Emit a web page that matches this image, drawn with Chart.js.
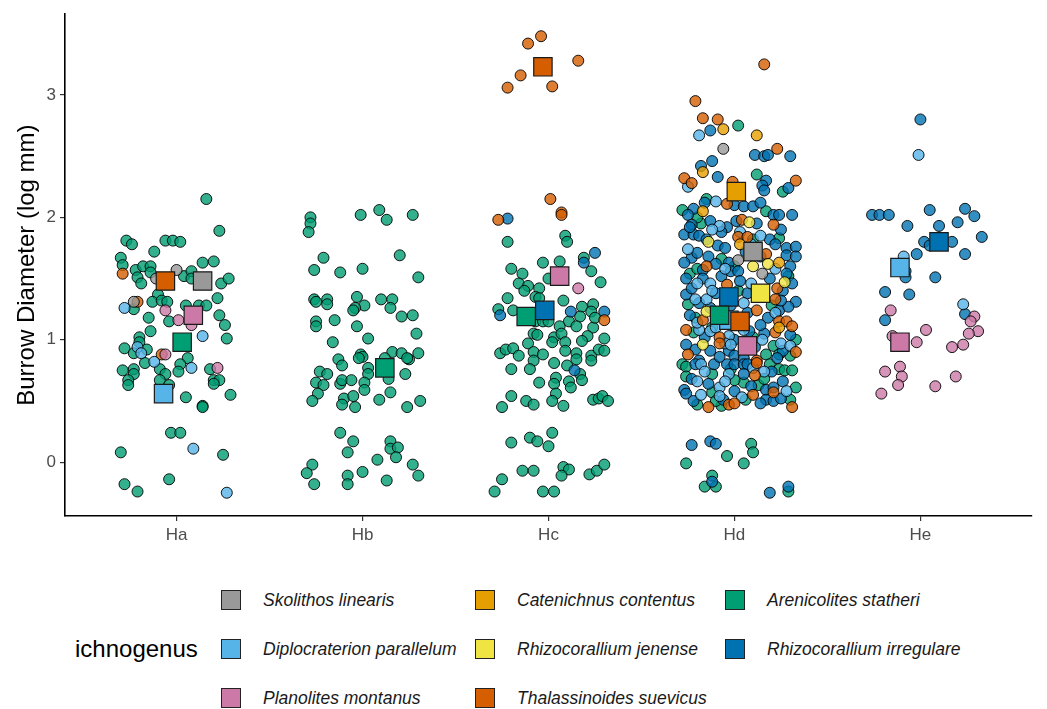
<!doctype html>
<html>

<head>
    <meta charset="utf-8">
    <title>Burrow Diameter</title>
    <script src="https://cdn.jsdelivr.net/npm/chart.js"></script>
    <style>
        body { margin: 0; background: #fff; font-family: "Liberation Sans", Arial, sans-serif; }
        #wrap { position: relative; width: 1047px; height: 709px; }
        #grafico { position: absolute; left: 0; top: 0; }
        .titulo { position: absolute; left: 75px; top: 635px; font-size: 24px; color: #000; }
        .item { position: absolute; height: 20px; display: flex; align-items: center; font-size: 17.5px; font-style: italic; color: #1a1a1a; white-space: nowrap; }
        .caixa { width: 18px; height: 18px; border: 1px solid #222; margin-right: 22px; }
    </style>
</head>

<body>
    <div id="wrap">
        <canvas id="grafico" width="1047" height="560"></canvas>
        <div class="titulo">ichnogenus</div>
        <div id="legenda"></div>
    </div>

    <script>
        // grupos no eixo x e ticks do eixo y
        var grupos = ['Ha', 'Hb', 'Hc', 'Hd', 'He'];
        var yTicks = [0, 1, 2, 3];

        var especies = ['Skolithos linearis', 'Diplocraterion parallelum', 'Planolites montanus',
            'Catenichnus contentus', 'Rhizocorallium jenense', 'Thalassinoides suevicus',
            'Arenicolites statheri', 'Rhizocorallium irregulare'];
        var cores = ['#999999', '#56B4E9', '#CC79A7', '#E69F00', '#F0E442', '#D55E00', '#009E73', '#0072B2'];

        // pontos [x com jitter, log mm]
        var skolithos = [[1.00, 1.57], [0.89, 1.50], [0.77, 1.31], [3.94, 2.56], [4.02, 1.65], [4.15, 1.54]];
        var skolithosMedia = [[1.14, 1.48], [4.10, 1.72]];

        var diplocraterion = [[0.72, 1.26], [1.14, 1.03], [0.79, 0.94], [0.81, 0.89], [0.88, 0.82], [1.08, 0.77], [1.09, 0.11], [1.27, -0.25],
            [3.81, 2.67], [3.75, 2.25], [3.90, 2.13], [3.92, 1.93], [4.14, 1.85], [3.80, 1.46], [3.87, 1.46], [4.09, 1.46], [3.79, 1.33],
            [3.85, 1.33], [3.81, 1.08], [3.87, 1.07], [3.90, 1.10], [3.97, 1.03], [4.05, 1.08], [4.15, 1.00], [4.25, 0.97], [3.95, 0.97],
            [3.82, 0.80], [3.80, 0.66], [3.97, 0.72], [4.16, 0.74], [3.92, 0.61], [3.82, 0.55], [3.92, 0.54],
            [3.88, 1.90], [4.03, 1.88], [3.75, 1.74], [4.09, 1.78], [3.95, 1.58], [4.22, 1.58], [3.88, 1.40], [4.12, 1.40], [3.80, 1.14],
            [4.05, 1.30], [4.22, 1.22], [3.98, 0.96], [4.30, 0.95], [3.84, 0.74], [4.10, 0.77], [3.95, 0.66], [4.28, 0.58], [4.04, 0.53],
            [4.99, 2.51], [4.91, 1.68], [5.23, 1.29]];
        var diplocraterionMedia = [[0.93, 0.56], [3.97, 1.16], [4.89, 1.59]];

        var planolites = [[0.94, 1.24], [1.01, 1.16], [1.08, 1.12], [0.94, 0.88], [1.22, 0.77],
            [3.16, 1.42],
            [4.84, 1.24], [5.29, 1.19], [5.27, 1.15], [5.31, 1.07], [5.26, 1.05], [5.03, 1.08], [4.85, 1.03], [4.98, 0.98], [5.17, 0.94],
            [5.23, 0.96], [4.89, 0.78], [4.81, 0.74], [4.90, 0.70], [4.88, 0.63], [4.79, 0.56], [5.08, 0.62], [5.19, 0.70]];
        var planolitesMedia = [[1.09, 1.20], [3.06, 1.52], [4.07, 0.95], [4.89, 0.98]];

        var catenichnus = [[3.94, 2.72], [4.12, 2.67], [3.83, 2.37], [3.83, 2.05], [4.03, 1.78], [4.24, 1.63], [4.24, 1.10]];
        var catenichnusMedia = [[4.01, 2.21]];

        var jenense = [[4.08, 1.96], [3.86, 1.80], [4.10, 1.60], [4.18, 1.62], [4.27, 1.47], [3.85, 1.23], [3.83, 0.96]];
        var jenenseMedia = [[4.14, 1.38]];

        var thalassinoides = [[0.71, 1.54], [0.79, 1.31], [0.92, 0.88],
            [2.89, 3.42], [2.96, 3.48], [3.16, 3.28], [2.85, 3.16], [2.78, 3.06], [3.02, 3.07], [3.01, 2.15], [3.07, 2.04], [3.07, 2.02],
            [2.73, 1.98], [3.30, 1.16],
            [4.16, 3.25], [3.79, 2.95], [3.83, 2.81], [3.91, 2.80], [4.23, 2.56], [3.73, 2.32], [3.77, 2.28], [3.99, 2.29], [4.33, 2.30],
            [3.96, 2.11], [4.21, 1.94], [4.04, 1.98], [4.02, 1.84], [4.07, 1.84], [3.96, 1.45], [4.23, 1.42], [4.22, 1.33], [4.12, 1.24],
            [3.83, 1.16], [3.74, 1.08], [4.24, 1.15], [4.28, 1.15], [4.31, 1.11], [4.22, 1.06], [3.92, 1.02], [3.92, 0.97], [3.75, 0.88],
            [4.12, 0.83], [4.12, 0.81], [4.11, 0.71], [4.21, 0.57], [4.10, 0.55], [4.31, 0.45], [3.86, 0.45], [3.97, 0.47], [4.00, 0.48],
            [3.85, 1.60], [4.17, 1.70], [4.33, 0.90]];
        var thalassinoidesMedia = [[0.94, 1.48], [2.97, 3.23], [4.03, 1.15]];

        var arenicolitesHa = [[1.16, 2.15], [1.23, 1.89], [0.73, 1.81], [0.76, 1.78], [0.94, 1.81], [0.98, 1.81], [1.02, 1.80], [0.88, 1.72],
            [0.70, 1.67], [0.71, 1.61], [0.78, 1.57], [0.82, 1.60], [0.86, 1.60], [0.79, 1.51], [0.81, 1.46], [0.86, 1.55], [1.04, 1.52],
            [1.08, 1.56], [1.08, 1.50], [1.14, 1.63], [1.20, 1.64], [1.24, 1.46], [1.28, 1.50], [1.22, 1.34], [0.90, 1.37], [0.77, 1.25],
            [0.87, 1.31], [0.92, 1.32], [0.95, 1.31], [0.85, 1.18], [0.96, 1.15], [1.05, 1.28], [1.12, 1.28], [1.16, 1.28], [1.23, 1.20],
            [1.26, 1.12], [1.27, 1.01], [0.86, 1.07], [0.80, 1.02], [0.80, 0.98], [0.84, 0.92], [0.72, 0.93], [0.77, 0.89], [0.83, 0.81],
            [1.06, 0.85], [1.02, 0.80], [1.01, 0.74], [0.71, 0.75], [0.77, 0.76], [0.77, 0.72], [0.74, 0.67], [0.74, 0.63], [0.91, 0.76],
            [0.94, 0.72], [0.91, 0.67], [1.18, 0.76], [1.20, 0.67], [1.23, 0.67], [1.20, 0.64], [0.96, 0.63], [1.29, 0.55], [1.05, 0.53],
            [1.14, 0.46], [1.14, 0.45], [0.97, 0.24], [1.02, 0.24], [0.70, 0.08], [1.25, 0.06], [0.72, -0.18], [0.79, -0.24], [0.96, -0.14]];
        var arenicolitesHb = [[1.72, 2.00], [1.72, 1.95], [1.71, 1.88], [1.99, 2.02], [2.09, 2.06], [2.13, 1.98], [2.27, 2.02], [1.79, 1.67],
            [2.20, 1.69], [1.74, 1.57], [1.88, 1.55], [2.00, 1.58], [2.30, 1.51], [1.74, 1.33], [1.75, 1.31], [1.81, 1.33], [1.81, 1.29],
            [1.97, 1.35], [2.01, 1.28], [1.96, 1.26], [1.95, 1.24], [2.10, 1.33], [2.16, 1.33], [2.15, 1.26], [2.21, 1.19], [2.27, 1.20],
            [1.75, 1.15], [1.75, 1.11], [1.85, 1.16], [1.97, 1.11], [2.29, 1.05], [2.03, 1.01], [1.84, 0.98], [1.99, 0.88], [2.00, 0.86],
            [1.98, 0.85], [2.16, 0.90], [2.21, 0.89], [2.30, 0.89], [1.87, 0.84], [1.89, 0.79], [2.25, 0.84], [2.24, 0.85], [2.12, 0.85],
            [2.14, 0.68], [2.03, 0.77], [2.03, 0.72], [2.23, 0.72], [1.77, 0.74], [1.81, 0.72], [1.75, 0.65], [1.79, 0.63], [1.76, 0.56],
            [1.73, 0.50], [1.88, 0.64], [1.89, 0.67], [1.94, 0.67], [2.01, 0.65], [2.01, 0.59], [1.90, 0.52], [1.89, 0.47], [1.95, 0.54],
            [1.96, 0.45], [2.09, 0.51], [2.15, 0.57], [2.24, 0.45], [2.31, 0.50], [1.88, 0.24], [1.95, 0.17], [1.92, 0.08], [2.15, 0.17],
            [2.15, 0.11], [2.19, 0.12], [2.18, 0.04], [2.08, 0.02], [2.27, -0.02], [1.73, -0.02], [1.70, -0.09], [1.74, -0.18], [1.92, -0.11],
            [1.92, -0.18], [2.00, -0.08], [2.13, -0.15], [2.30, -0.11]];
        var arenicolitesHc = [[2.78, 1.80], [3.09, 1.85], [3.10, 1.80], [3.19, 1.67], [3.23, 1.56], [2.80, 1.58], [2.97, 1.63], [3.06, 1.64],
            [2.86, 1.54], [3.28, 1.47], [3.00, 1.50], [2.84, 1.46], [2.89, 1.44], [2.87, 1.40], [2.95, 1.42], [2.78, 1.34], [2.93, 1.35],
            [2.95, 1.34], [2.73, 1.25], [2.81, 1.24], [3.08, 1.32], [3.18, 1.27], [3.24, 1.29], [3.23, 1.23], [3.17, 1.19], [3.11, 1.15],
            [3.15, 1.11], [3.24, 1.10], [3.25, 1.18], [2.93, 1.15], [2.97, 1.15], [3.00, 1.15], [3.06, 1.11], [2.92, 1.05], [2.94, 1.04],
            [3.03, 1.02], [3.07, 1.05], [3.21, 1.03], [3.30, 1.01], [2.89, 0.97], [3.02, 0.98], [3.09, 0.98], [3.18, 0.99], [2.74, 0.89],
            [2.77, 0.92], [2.81, 0.93], [2.84, 0.87], [2.92, 0.90], [2.97, 0.88], [2.92, 0.83], [3.09, 0.91], [3.15, 0.89], [3.15, 0.84],
            [3.23, 0.87], [3.23, 0.83], [3.27, 0.92], [3.30, 0.91], [3.03, 0.81], [2.80, 0.76], [2.90, 0.76], [3.10, 0.79], [3.17, 0.72],
            [3.18, 0.67], [2.95, 0.65], [3.04, 0.69], [3.03, 0.64], [3.11, 0.66], [3.12, 0.61], [2.80, 0.54], [2.75, 0.45], [2.88, 0.50],
            [2.92, 0.47], [3.04, 0.56], [3.02, 0.50], [3.08, 0.46], [3.24, 0.51], [3.27, 0.52], [3.29, 0.54], [3.32, 0.50], [3.02, 0.24],
            [2.80, 0.16], [2.90, 0.20], [2.94, 0.17], [3.00, 0.13], [2.86, -0.07], [2.92, -0.07], [3.08, -0.04], [3.11, -0.06], [3.07, -0.11],
            [3.22, -0.10], [3.26, -0.07], [3.30, -0.02], [2.75, -0.14], [2.71, -0.24], [2.97, -0.24], [3.03, -0.24]];
        var arenicolitesHd = [[4.02, 2.75], [4.12, 2.35], [4.26, 2.21], [3.85, 2.15], [3.72, 2.06], [4.17, 2.05], [3.82, 1.95], [4.24, 1.83],
            [3.76, 1.54], [3.75, 1.29], [3.79, 1.18], [4.33, 1.00], [3.78, 1.06], [4.21, 0.95], [4.17, 0.88], [4.30, 0.87], [3.72, 0.80],
            [3.74, 0.78], [4.19, 0.80], [4.24, 0.76], [4.27, 0.75], [4.31, 0.75], [3.88, 0.72], [4.05, 0.65], [4.00, 0.67], [4.13, 0.63],
            [4.33, 0.61], [3.88, 0.57], [4.06, 0.51], [4.30, 0.51], [3.80, 0.47], [3.93, 0.46], [4.09, 0.15], [4.10, 0.08], [3.96, 0.05],
            [3.74, -0.01], [4.05, -0.01], [3.88, -0.11], [3.84, -0.20], [3.90, -0.20], [4.29, -0.24],
            [3.80, 2.00], [4.10, 1.82], [3.93, 1.66], [4.29, 1.52], [3.80, 1.58], [4.02, 1.40], [3.95, 1.20], [4.20, 1.28], [3.88, 1.10],
            [4.10, 1.02], [3.74, 0.70], [3.98, 0.76], [4.16, 0.68], [3.90, 0.50], [4.24, 0.88], [4.00, 1.60]];
        var arenicolitesMedia = [[1.03, 0.98], [2.12, 0.77], [2.88, 1.19], [3.92, 1.20]];

        var irregulareHc = [[2.78, 1.99], [3.25, 1.71], [3.19, 1.63], [2.74, 1.20], [3.12, 1.23], [3.30, 1.23], [3.14, 0.75]];
        var irregulareHd = [[3.87, 2.71], [4.11, 2.51], [4.16, 2.50], [4.18, 2.51], [4.30, 2.50], [3.82, 2.42], [3.88, 2.46], [3.91, 2.33],
            [4.17, 2.30], [4.15, 2.26], [4.16, 2.22], [4.29, 2.24], [3.84, 2.12], [3.78, 2.07], [4.00, 2.10], [4.05, 2.09], [4.10, 2.09],
            [4.14, 2.12], [4.21, 2.02], [4.24, 2.02], [4.31, 2.02], [3.75, 2.02], [3.77, 1.94], [3.87, 1.97], [3.96, 1.92], [4.01, 1.97],
            [4.25, 1.90], [3.73, 1.86], [3.78, 1.86], [3.81, 1.85], [3.91, 1.77], [4.19, 1.82], [4.22, 1.78], [4.28, 1.75], [4.33, 1.76],
            [4.28, 1.69], [4.33, 1.68], [3.77, 1.67], [3.80, 1.71], [3.86, 1.68], [3.90, 1.62], [3.97, 1.63], [3.98, 1.56], [4.02, 1.56],
            [3.83, 1.57], [4.30, 1.60], [4.28, 1.54], [3.83, 1.50], [4.31, 1.46], [4.33, 1.31], [4.07, 1.38], [4.03, 1.48], [3.74, 1.37],
            [3.81, 1.30], [3.87, 1.26], [4.18, 1.18], [4.24, 1.24], [4.29, 1.27], [4.08, 1.07], [4.16, 1.05], [4.26, 0.91], [3.79, 0.92],
            [3.87, 0.91], [3.97, 0.91], [4.00, 0.87], [4.05, 0.85], [4.23, 0.85], [3.81, 0.83], [3.89, 0.80], [3.73, 1.63], [3.79, 0.80],
            [3.96, 0.80], [4.00, 0.80], [4.05, 0.80], [4.07, 0.80], [3.77, 0.68], [4.05, 0.72], [4.17, 0.59], [4.21, 0.61], [3.73, 0.59],
            [3.74, 0.56], [3.94, 0.51], [4.17, 0.51], [4.21, 0.50], [4.14, 0.48], [3.77, 0.14], [3.87, 0.17], [3.90, 0.15], [3.88, -0.16],
            [4.19, -0.25], [4.29, -0.20],
            [3.76, 1.92], [3.93, 1.88], [4.12, 1.95], [3.85, 1.82], [4.06, 1.72], [4.14, 1.68], [3.74, 1.50], [3.93, 1.52], [4.19, 1.50],
            [3.77, 1.42], [3.90, 1.38], [4.26, 1.40], [3.98, 1.28], [4.07, 1.22], [3.76, 1.20], [4.14, 1.12], [3.84, 1.02], [4.00, 1.00],
            [4.30, 1.04], [3.74, 0.96], [4.11, 0.94], [3.92, 0.86], [4.20, 0.74], [3.86, 0.64], [4.00, 0.58], [4.26, 0.66], [4.09, 0.62],
            [3.78, 0.50], [4.25, 0.52], [3.95, 1.75], [4.25, 1.32], [4.02, 1.12]];
        var irregulareHe = [[5.00, 2.80], [4.74, 2.02], [4.78, 2.02], [4.83, 2.02], [5.05, 2.06], [5.24, 2.07], [5.29, 2.01], [4.93, 1.93],
            [5.10, 1.93], [5.20, 1.96], [5.33, 1.84], [5.02, 1.80], [5.17, 1.80], [5.05, 1.77], [4.98, 1.70], [5.24, 1.70], [4.92, 1.56],
            [4.92, 1.51], [5.08, 1.51], [4.81, 1.39], [4.94, 1.37], [5.24, 1.21], [4.81, 1.16]];
        var irregulareMedia = [[2.98, 1.24], [3.97, 1.35], [5.10, 1.80]];

        var arenicolites = arenicolitesHa.concat(arenicolitesHb, arenicolitesHc, arenicolitesHd);
        var irregulare = irregulareHc.concat(irregulareHd, irregulareHe);

        var pontos = [skolithos, diplocraterion, planolites, catenichnus, jenense, thalassinoides, arenicolites, irregulare];
        var medias = [skolithosMedia, diplocraterionMedia, planolitesMedia, catenichnusMedia, jenenseMedia, thalassinoidesMedia, arenicolitesMedia, irregulareMedia];

        function xy(lista) {
            return lista.map(p => ({ x: p[0], y: p[1] }));
        }

        function alpha(hex, a) {
            var n = parseInt(hex.slice(1), 16);
            return 'rgba(' + (n >> 16) + ',' + ((n >> 8) & 255) + ',' + (n & 255) + ',' + a + ')';
        }

        // o primeiro dataset fica por cima
        var ordemMedias = [5, 6, 7, 4, 2, 0, 3, 1];
        var ordemPontos = [2, 0, 4, 3, 5, 1, 7, 6];
        var datasets = [];

        ordemMedias.forEach(i => {
            datasets.push({
                label: especies[i] + ' (média)',
                data: xy(medias[i]),
                pointStyle: 'rect',
                pointRadius: 13,
                backgroundColor: cores[i],
                borderColor: '#1a1a1a',
                borderWidth: 1.2
            });
        });

        ordemPontos.forEach(i => {
            datasets.push({
                label: especies[i],
                data: xy(pontos[i]),
                pointStyle: 'circle',
                pointRadius: 5.5,
                backgroundColor: alpha(cores[i], 0.8),
                borderColor: 'rgba(0,0,0,0.9)',
                borderWidth: 1
            });
        });

        var Grafico = new Chart(document.getElementById('grafico').getContext('2d'), {
            type: 'scatter',
            data: { datasets: datasets },
            options: {
                responsive: false,
                animation: false,
                events: [],
                layout: { padding: { top: 12, right: 15, left: 0, bottom: 0 } },
                plugins: { legend: { display: false }, tooltip: { enabled: false } },
                scales: {
                    x: {
                        type: 'linear',
                        min: 0.4,
                        max: 5.6,
                        afterBuildTicks: s => { s.ticks = grupos.map((g, i) => ({ value: i + 1 })); },
                        afterFit: s => { s.height = 44; },
                        ticks: {
                            callback: v => grupos[v - 1],
                            color: '#4d4d4d',
                            font: { family: '"Liberation Sans", Arial', size: 17 },
                            padding: 4,
                            autoSkip: false,
                            maxRotation: 0
                        },
                        grid: { display: true, drawOnChartArea: false, drawTicks: true, tickLength: 5, color: '#333', lineWidth: 1.2 },
                        border: { display: true, color: '#000', width: 1.6 }
                    },
                    y: {
                        min: -0.44,
                        max: 3.66,
                        afterBuildTicks: s => { s.ticks = yTicks.map(v => ({ value: v })); },
                        afterFit: s => { s.width = 65; },
                        ticks: {
                            color: '#4d4d4d',
                            font: { family: '"Liberation Sans", Arial', size: 17 },
                            padding: 4
                        },
                        grid: { display: true, drawOnChartArea: false, drawTicks: true, tickLength: 5, color: '#333', lineWidth: 1.2 },
                        border: { display: true, color: '#000', width: 1.6 },
                        title: {
                            display: true,
                            text: 'Burrow Diameter (log mm)',
                            color: '#000',
                            font: { family: '"Liberation Sans", Arial', size: 24 },
                            padding: { top: 13, bottom: 0 }
                        }
                    }
                }
            }
        });

        // legenda em colunas, como no ggplot
        var colX = [221, 475, 725];
        var linhaY = [590, 639, 688];
        var legenda = document.getElementById('legenda');
        especies.forEach((nome, i) => {
            var item = document.createElement('div');
            item.className = 'item';
            item.style.left = colX[Math.floor(i / 3)] + 'px';
            item.style.top = linhaY[i % 3] + 'px';
            item.innerHTML = '<span class="caixa" style="background:' + cores[i] + '"></span>' + nome;
            legenda.appendChild(item);
        });
    </script>
</body>

</html>
